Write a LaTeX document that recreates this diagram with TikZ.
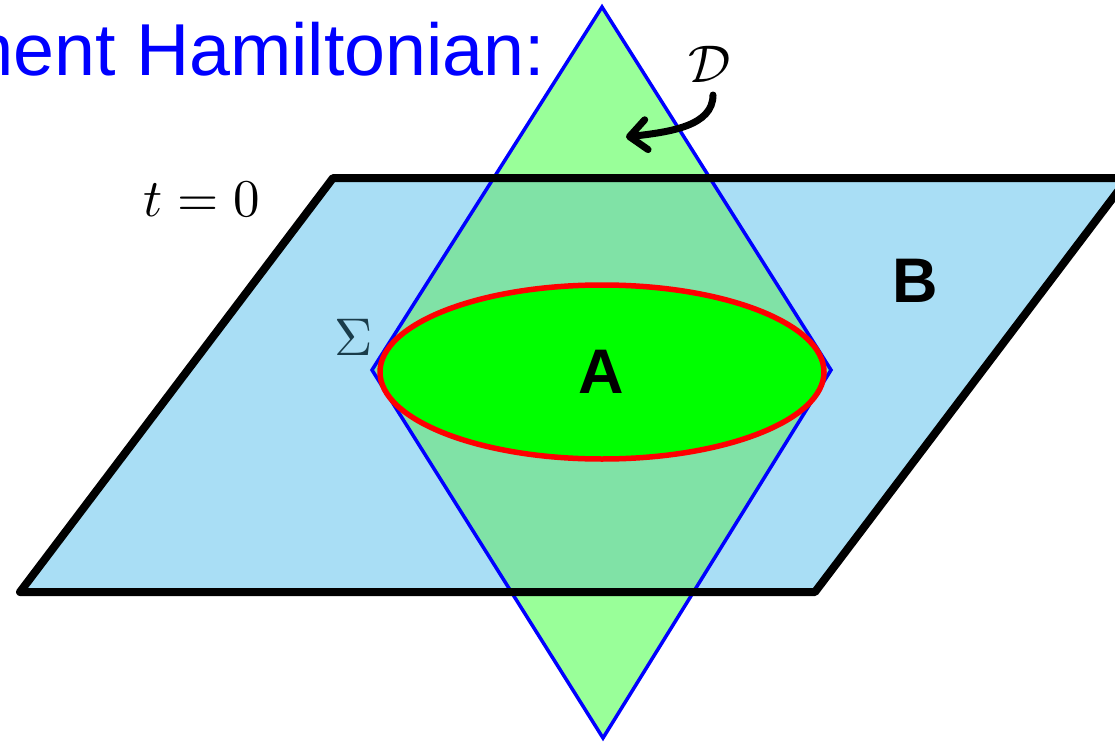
\documentclass[tikz,border=0pt]{standalone}
\usepackage{fontspec}
\setsansfont{Liberation Sans}
\usetikzlibrary{arrows.meta}
\definecolor{planeblue}{HTML}{A9DEF5}
\definecolor{diamondgreen}{HTML}{99FF99}
\definecolor{overlapgreen}{HTML}{80E2A6}
\definecolor{sigmacol}{HTML}{1A3C4A}
\tikzset{
  plane/.style={line width=8pt, line join=round},
  wedge/.style={draw=blue, line width=3.5pt},
  regionA/.style={draw=red, fill=green, line width=5.5pt},
  mathlabel/.style={scale=5.3, inner sep=0pt, anchor=base},
  boldlabel/.style={font=\sffamily\bfseries\fontsize{63}{70}\selectfont, inner sep=0pt, anchor=base},
}
\begin{document}
\begin{tikzpicture}[x=1pt,y=-1pt,>={Straight Barb[length=17pt,width=30pt,round]}]
		\useasboundingbox (0,0) rectangle (1115,741);
		\clip (0,0) rectangle (1115,741);
		% Corners
		\coordinate (pTL) at (333,178);
		\coordinate (pTR) at (1128,178);
		\coordinate (pBR) at (815,592);
		\coordinate (pBL) at (20,592);
		\coordinate (dT) at (602,7);
		\coordinate (dR) at (831,370);
		\coordinate (dB) at (603,738);
		\coordinate (dL) at (372,370);
		% Fills
		\fill[planeblue] (pTL) -- (pTR) -- (pBR) -- (pBL) -- cycle;
		\fill[diamondgreen] (dT) -- (dR) -- (dB) -- (dL) -- cycle;
		\begin{scope}
			\clip (pTL) -- (pTR) -- (pBR) -- (pBL) -- cycle;
			\fill[overlapgreen] (dT) -- (dR) -- (dB) -- (dL) -- cycle;
		\end{scope}
		% Borders
		\draw[wedge] (dT) -- (dR) -- (dB) -- (dL) -- cycle;
		\draw[plane] (pTL) -- (pTR) -- (pBR) -- (pBL) -- cycle;
		\draw[regionA] (602,372) ellipse [x radius=222, y radius=87];
		% Labels
		\node[anchor=base west, inner sep=0pt, text=blue, font=\sffamily\fontsize{73.6}{80}\selectfont] (title) at (-48,76) {ment Hamiltonian:};
		\node[mathlabel] (tzero) at (201.5,216) {$t=0$};
		\node[mathlabel, text=sigmacol] (sigma) at (354,355) {$\Sigma$};
		\node[mathlabel] (dlabel) at (710,83) {$\mathcal{D}$};
		\node[boldlabel] (alabel) at (601,393) {A};
		\node[boldlabel] (blabel) at (915,302) {B};
		\coordinate (dstart) at (713,95);
		\coordinate (dtip) at (626,137);
		\draw[->, line width=7pt, line cap=round] (dstart) .. controls (713,126) and (670,132) .. (dtip);
	\end{tikzpicture}
\end{document}
